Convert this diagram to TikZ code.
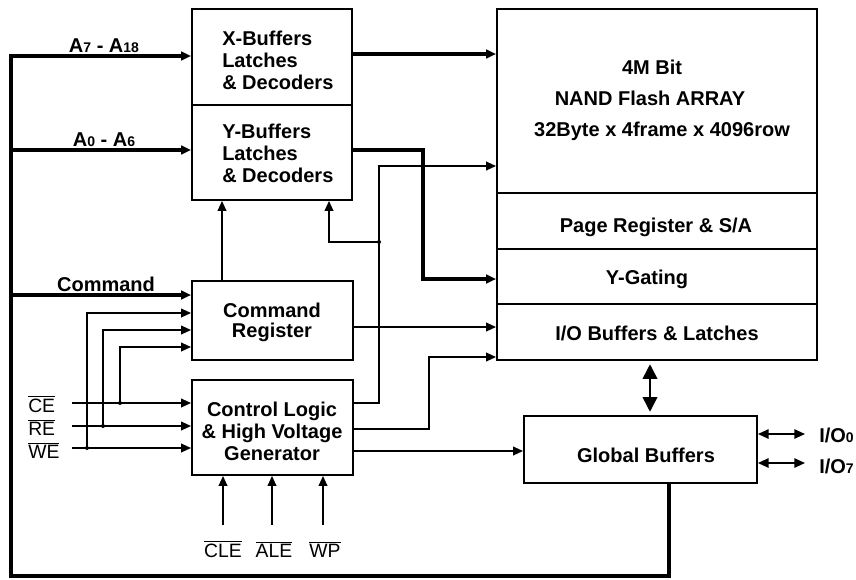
\documentclass[tikz,border=0pt]{standalone}
\usepackage{fontspec}
\setmainfont{Liberation Sans}
\usetikzlibrary{arrows.meta,fit}
\newcommand{\ovl}[1]{$\overline{\mbox{#1}}$}
\newcommand{\subs}[1]{{\fontsize{10.5}{12}\selectfont #1}}
\begin{document}
\begin{tikzpicture}[x=0.75pt,y=-0.75pt,
  box/.style={draw,line width=1.4pt,inner sep=0pt},
  lbl/.style={font=\fontsize{15}{16.5}\selectfont\bfseries,inner sep=0pt},
  sig/.style={font=\fontsize{14.5}{16}\selectfont,inner sep=0pt},
  tline/.style={line width=1.3pt},
  bline/.style={line width=2.4pt},
  arr/.style={-{Triangle[length=7.5pt,width=6.5pt]}},
  dot/.style={circle,fill,inner sep=0pt,minimum size=3pt}]
\useasboundingbox (0,0) rectangle (856,579);
% boxes
\node[box,fit={(192,9)(352,105)}] (xb) {};
\node[box,fit={(192,105)(352,200)}] (yb) {};
\node[box,fit={(192,281)(353,360)}] (cr) {};
\node[box,fit={(192,380)(353,475)}] (cl) {};
\node[box,fit={(497,9)(817,193)}] (ar) {};
\node[box,fit={(497,193)(817,249)}] (pr) {};
\node[box,fit={(497,249)(817,304)}] (yg) {};
\node[box,fit={(497,304)(817,360)}] (io) {};
\node[box,fit={(524,416)(757,483)}] (gb) {};
% box texts
\node[lbl,align=left,anchor=west] (xbt) at (222,60) {X-Buffers\\Latches\\\& Decoders};
\node[lbl,align=left,anchor=west] (ybt) at (222,153) {Y-Buffers\\Latches\\\& Decoders};
\node[lbl,align=center,font=\fontsize{15}{15}\selectfont\bfseries] (crt) at (272,322) {Command\\Register};
\node[lbl,align=center] (clt) at (272,431) {Control Logic\\\& High Voltage\\Generator};
\node[lbl,anchor=base] (art1) at (652,74) {4M Bit};
\node[lbl,anchor=base] (art2) at (650,105) {NAND Flash ARRAY};
\node[lbl,anchor=base] (art3) at (662,136) {32Byte x 4frame x 4096row};
\node[lbl,anchor=base] (prt) at (656,232) {Page Register \& S/A};
\node[lbl,anchor=base] (ygt) at (647,284) {Y-Gating};
\node[lbl,anchor=base] (iot) at (657,340) {I/O Buffers \& Latches};
\node[lbl,anchor=base] (gbt) at (646,462) {Global Buffers};
% bus labels
\node[lbl,anchor=base] (la7) at (104,52) {A\subs{7} - A\subs{18}};
\node[lbl,anchor=base] (la0) at (104,146) {A\subs{0} - A\subs{6}};
\node[lbl,anchor=base] (lcmd) at (106,291) {Command};
\node[lbl,anchor=base west] (lio0) at (819,442) {I/O\subs{0}};
\node[lbl,anchor=base west] (lio7) at (819,473) {I/O\subs{7}};
% signal labels
\node[sig,anchor=base west] (lce) at (28,412) {\ovl{CE}};
\node[sig,anchor=base west] (lre) at (28,435) {\ovl{RE}};
\node[sig,anchor=base west] (lwe) at (28,458) {\ovl{WE}};
\node[sig,anchor=base] (lcle) at (223,557) {\ovl{CLE}};
\node[sig,anchor=base] (lale) at (274,557) {\ovl{ALE}};
\node[sig,anchor=base] (lwp) at (325,557) {\ovl{WP}};
% free ends
\coordinate (gbout) at (669,483);
\coordinate (ceS) at (72,403);
\coordinate (reS) at (72,426);
\coordinate (weS) at (72,448);
\coordinate (cleS) at (223,525);
\coordinate (aleS) at (272,525);
\coordinate (wpS) at (323,525);
\coordinate (io0E) at (805,434);
\coordinate (io7E) at (805,463);
% bus
\draw[bline,arr] (gbout) -- (669,576) -- (11,576) -- (11,56) -- (xb.west |- 0,56);
\draw[bline,arr] (11,150) -- (yb.west |- 0,150);
\draw[bline,arr] (11,295) -- (cr.west |- 0,295);
% buffers to array
\draw[bline,arr] (xb.east |- 0,54) -- (ar.west |- 0,54);
\draw[bline,arr] (yb.east |- 0,150) -- (423,150) -- (423,279) -- (yg.west |- 0,279);
% control logic outputs
\draw[tline,arr] (cl.east |- 0,403) -- (379,403) -- (379,166) -- (ar.west |- 0,166);
\draw[tline,arr] (379,242) -- (329,242) -- (yb.south -| 329,0);
\node[dot] (d1) at (379,242) {};
\draw[tline,arr] (cr.north -| 222,0) -- (yb.south -| 222,0);
\draw[tline,arr] (cr.east |- 0,327) -- (io.west |- 0,327);
\draw[tline,arr] (cl.east |- 0,429) -- (429,429) -- (429,357) -- (io.west |- 0,357);
\draw[tline,arr] (cl.east |- 0,451) -- (gb.west |- 0,451);
% io <-> global
\draw[tline,{Triangle[length=11pt,width=11pt]}-{Triangle[length=11pt,width=11pt]},shorten <=2.5pt,shorten >=2.5pt] (io.south -| 650,0) -- (gb.north -| 650,0);
\draw[tline,{Triangle[length=8pt,width=7pt]}-{Triangle[length=8pt,width=7pt]}] (gb.east |- 0,434) -- (io0E);
\draw[tline,{Triangle[length=8pt,width=7pt]}-{Triangle[length=8pt,width=7pt]}] (gb.east |- 0,463) -- (io7E);
% CE RE WE
\draw[tline,arr] (ceS) -- (cl.west |- 0,403);
\draw[tline,arr] (reS) -- (cl.west |- 0,426);
\draw[tline,arr] (weS) -- (cl.west |- 0,448);
\draw[tline,arr] (120,403) -- (120,347) -- (cr.west |- 0,347);
\draw[tline,arr] (103,426) -- (103,330) -- (cr.west |- 0,330);
\draw[tline,arr] (87,448) -- (87,313) -- (cr.west |- 0,313);
\node[dot] (d2) at (120,403) {};
\node[dot] (d3) at (103,426) {};
\node[dot] (d4) at (87,448) {};
% CLE ALE WP
\draw[tline,arr] (cleS) -- (cl.south -| cleS);
\draw[tline,arr] (aleS) -- (cl.south -| aleS);
\draw[tline,arr] (wpS) -- (cl.south -| wpS);
\end{tikzpicture}
\end{document}
